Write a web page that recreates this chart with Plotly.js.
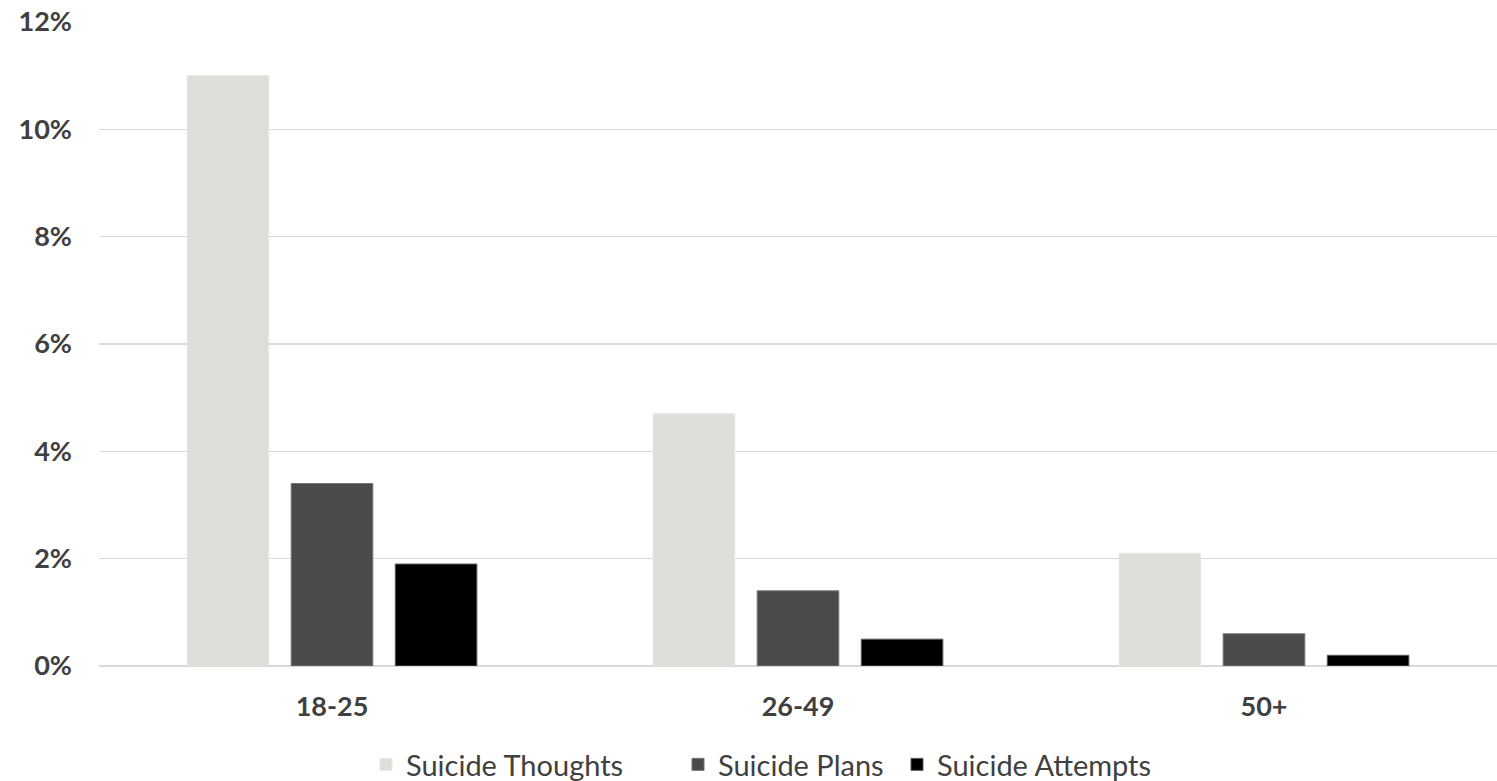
<!DOCTYPE html>
<html>
<head>
<meta charset="utf-8">
<script src="https://cdn.plot.ly/plotly-3.0.1.min.js"></script>
<style>html,body{margin:0;padding:0;background:#fff;}#chart{width:1497px;height:781px;}</style>
</head>
<body>
<div id="chart"></div>
<script>
var ageGroups = ['18-25', '26-49', '50+'];
var suicideThoughts = [11.0, 4.7, 2.1];
var suicidePlans = [3.4, 1.4, 0.6];
var suicideAttempts = [1.9, 0.5, 0.2];
var seriesNames = ['Suicide Thoughts', 'Suicide Plans', 'Suicide Attempts'];
var yTicks = [0, 2, 4, 6, 8, 10, 12];
var yTickLabels = ['0%', '2%', '4%', '6%', '8%', '10%', '12%'];

var L = 99, R = 0, W = 1497, H = 781;

var traces = [
  {type: 'bar', x: ageGroups, y: suicideThoughts, name: seriesNames[0], legend: 'legend',
   marker: {color: '#deddd8', line: {color: '#e8e7e3', width: 1}}},
  {type: 'bar', x: ageGroups, y: suicidePlans, name: seriesNames[1], legend: 'legend2',
   marker: {color: '#4a4a4a', line: {color: '#737373', width: 1}}},
  {type: 'bar', x: ageGroups, y: suicideAttempts, name: seriesNames[2], legend: 'legend3',
   marker: {color: '#000000', line: {color: '#5a5a5a', width: 1}}}
];

var legFont = {family: 'Lato, sans-serif', size: 29, color: '#404040'};
function leg(x) {
  return {orientation: 'h', xref: 'container', x: x / W, xanchor: 'left',
          yref: 'container', y: (H - 739) / H, yanchor: 'top',
          font: legFont, bgcolor: 'rgba(0,0,0,0)', borderwidth: 0};
}

var layout = {
  width: W, height: H,
  margin: {l: L, r: R, t: 22, b: 115, autoexpand: false},
  paper_bgcolor: '#ffffff', plot_bgcolor: '#ffffff',
  barmode: 'group', bargap: 0.33, bargroupgap: 0.216,
  showlegend: true,
  legend: leg(366),
  legend2: leg(678),
  legend3: leg(897),
  xaxis: {
    type: 'category', showgrid: false, zeroline: false, showline: false, ticks: '',
    ticklabelstandoff: 22,
    tickfont: {family: 'Lato, sans-serif', size: 27, color: '#404040', weight: 'bold'}
  },
  yaxis: {
    range: [0, 12], tickmode: 'array', tickvals: yTicks, ticktext: yTickLabels,
    showgrid: true, gridcolor: '#d9d9d9', gridwidth: 1.5,
    zeroline: true, zerolinecolor: '#d9d9d9', zerolinewidth: 1.5,
    showline: false, ticks: '', ticklabelstandoff: 26,
    tickfont: {family: 'Lato, sans-serif', size: 27, color: '#404040', weight: 'bold'}
  },
  hovermode: false
};

Plotly.newPlot('chart', traces, layout, {displayModeBar: false, staticPlot: true});
</script>
</body>
</html>
